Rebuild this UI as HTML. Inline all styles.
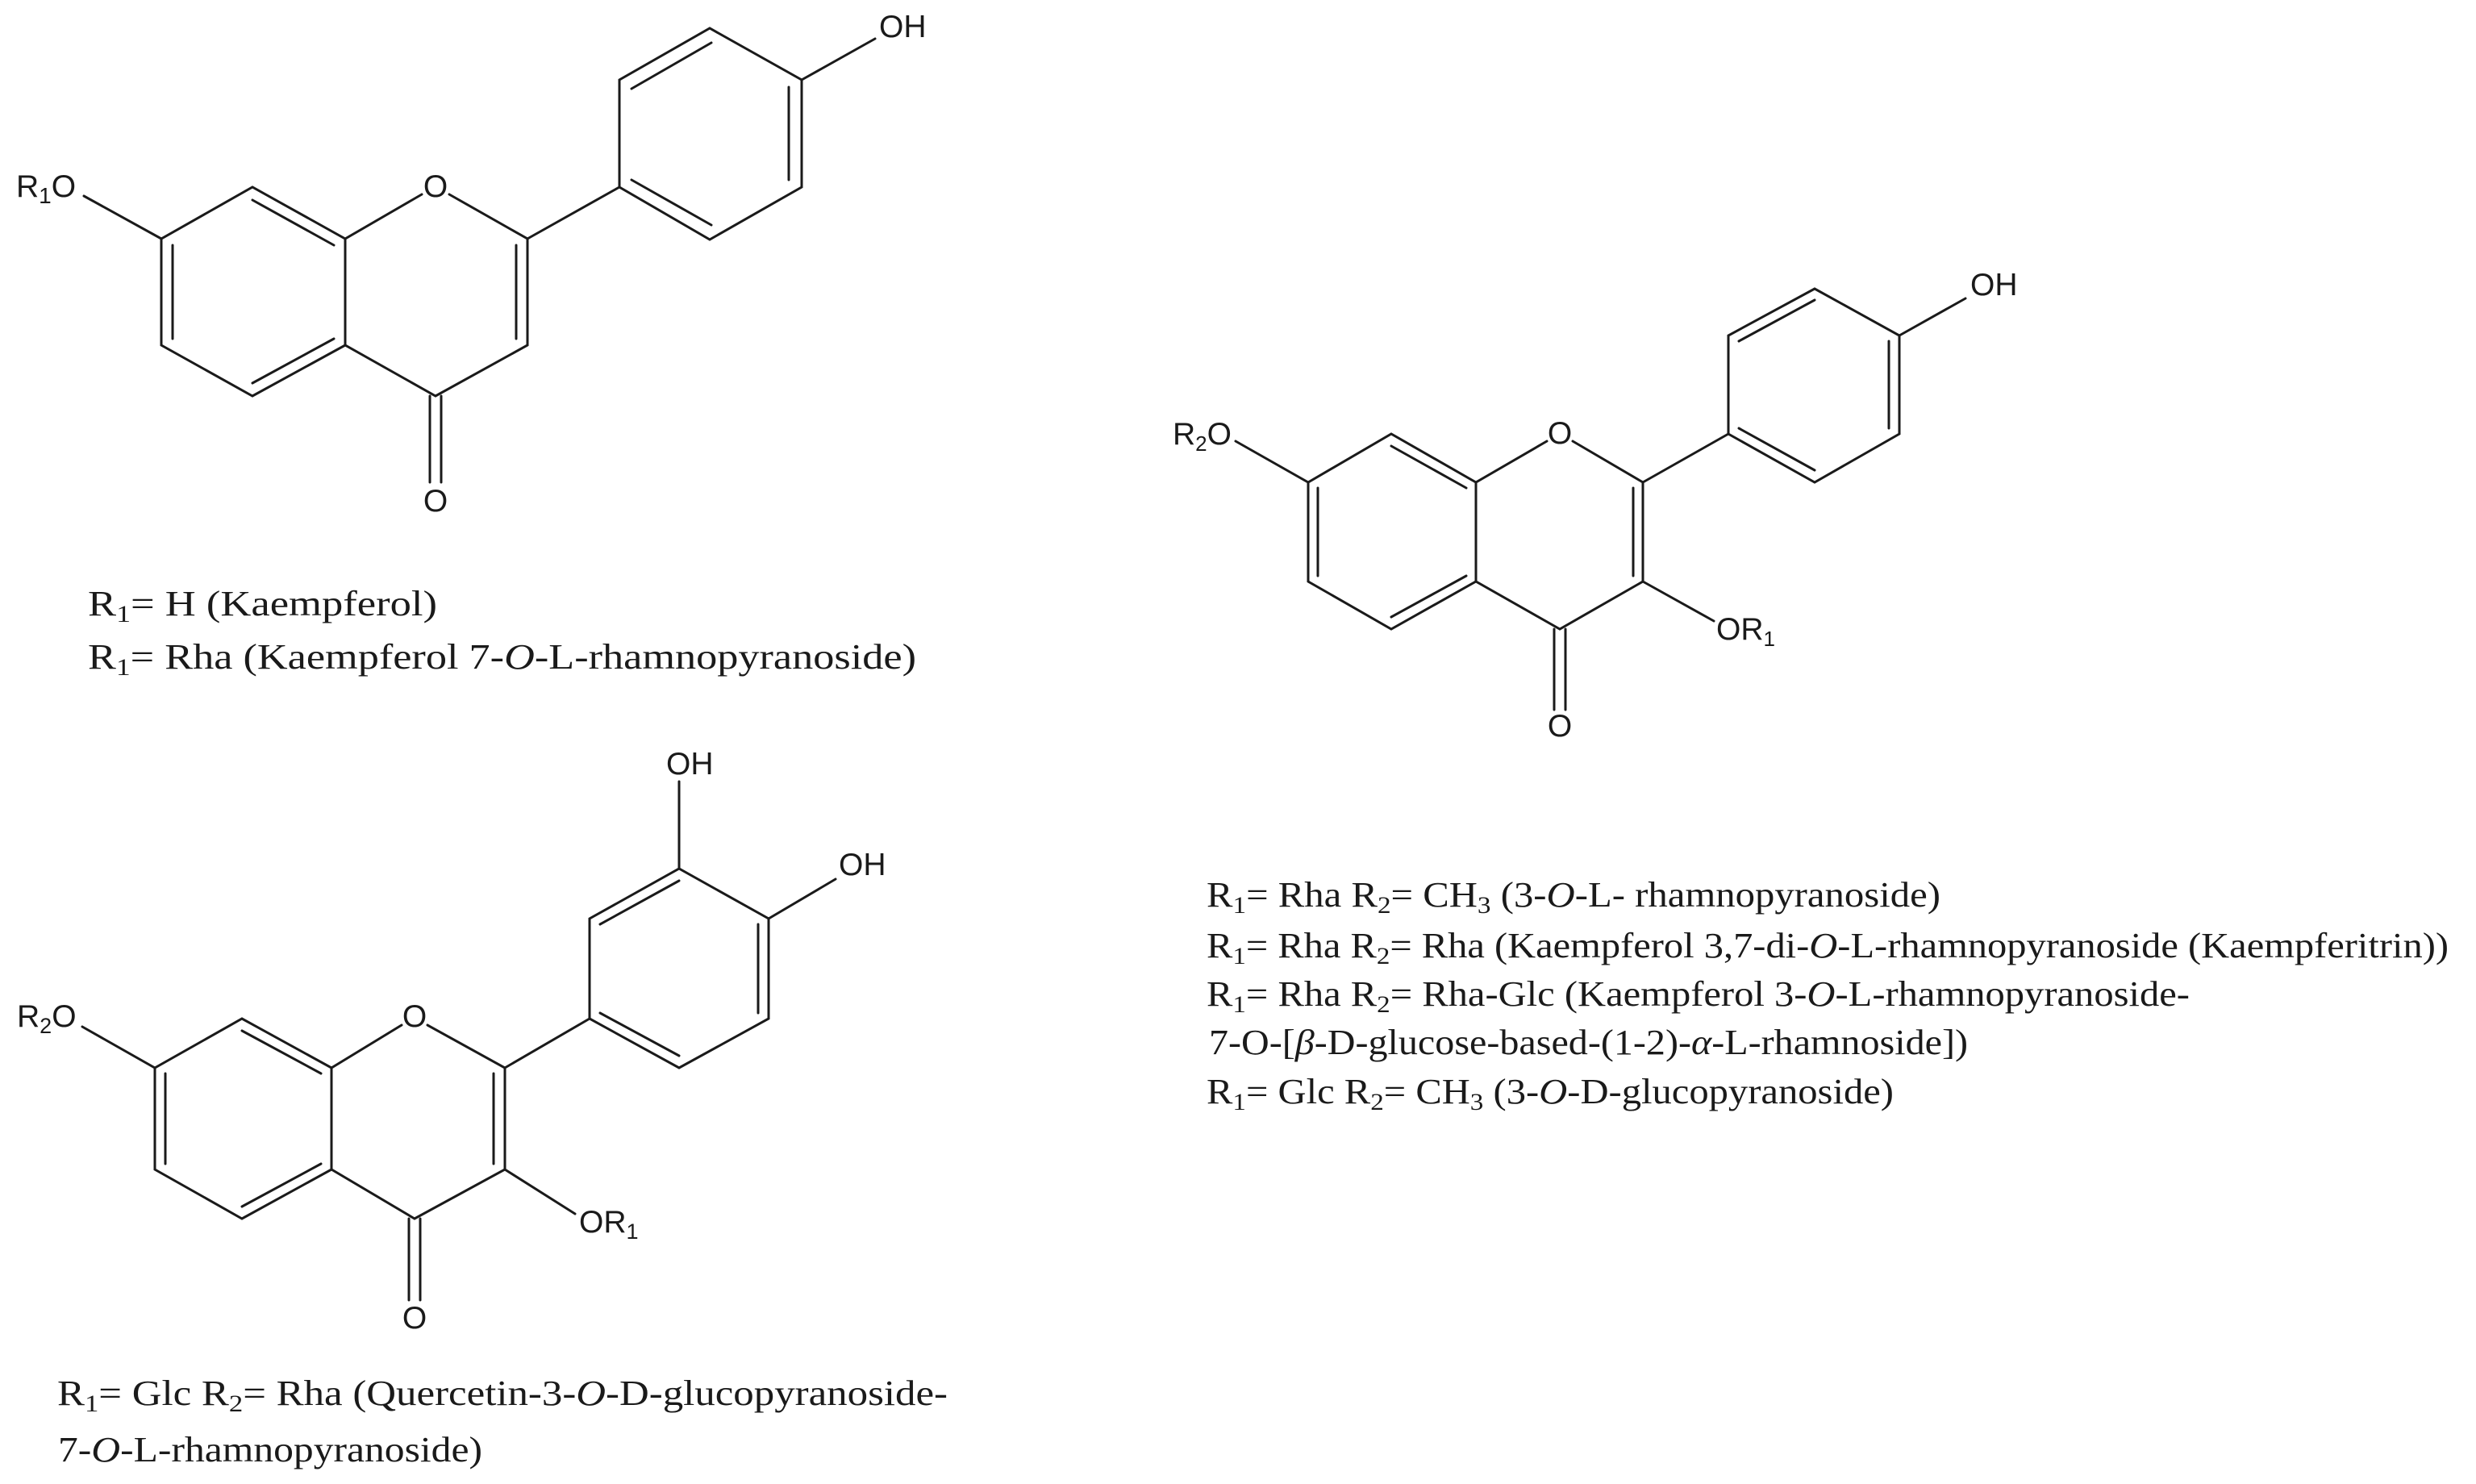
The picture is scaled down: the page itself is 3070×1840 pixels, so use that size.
<!DOCTYPE html>
<html><head><meta charset="utf-8"><style>
html,body{margin:0;padding:0;background:#fff;}
svg{display:block}
.b{stroke:#1a1a1a;stroke-width:3;fill:none;stroke-linecap:round}
.a{font-family:"Liberation Sans",sans-serif;font-size:39px;fill:#1a1a1a}
.c{font-family:"Liberation Serif",serif;font-size:44px;fill:#1a1a1a}
</style></head><body>
<svg width="3070" height="1840" viewBox="0 0 3070 1840" xmlns="http://www.w3.org/2000/svg">
<!-- Structure 1 -->
<g class="b">
<polyline points="104,243 200,296 313,232 428,296 523,241"/>
<polyline points="557,241 654,296 654,428 540,491 428,428 313,491 200,428 200,296"/>
<line x1="428" y1="296" x2="428" y2="428"/>
<line x1="654" y1="296" x2="768" y2="232"/>
<polygon points="768,232 768,99 880,35 994,99 994,232 880,297"/>
<line x1="994" y1="99" x2="1085" y2="48"/>
<line x1="313" y1="248" x2="414" y2="304"/>
<line x1="214" y1="304" x2="214" y2="420"/>
<line x1="313" y1="475" x2="414" y2="420"/>
<line x1="640" y1="304" x2="640" y2="420"/>
<line x1="533" y1="491" x2="533" y2="598"/>
<line x1="547" y1="491" x2="547" y2="598"/>
<line x1="783" y1="110" x2="882" y2="53"/>
<line x1="978" y1="108" x2="978" y2="223"/>
<line x1="882" y1="279" x2="783" y2="223"/>
</g>
<text class="a" x="20" y="244" font-size="41">R<tspan font-size="28" dy="8">1</tspan><tspan dy="-8">O</tspan></text>
<text class="a" x="540" y="244" text-anchor="middle" font-size="41">O</text>
<text class="a" x="540" y="634" text-anchor="middle" font-size="41">O</text>
<text class="a" x="1090" y="46" font-size="41">OH</text>
<text class="c" x="109" y="763" textLength="433" lengthAdjust="spacingAndGlyphs">R<tspan font-size="30" dy="8">1</tspan><tspan dy="-8">= H (Kaempferol)</tspan></text>
<text class="c" x="109" y="829" textLength="1027" lengthAdjust="spacingAndGlyphs">R<tspan font-size="30" dy="8">1</tspan><tspan dy="-8">= Rha (Kaempferol 7-</tspan><tspan font-style="italic">O</tspan>-L-rhamnopyranoside)</text>

<!-- Structure 2 -->
<g class="b">
<polyline points="1532,547 1622,598 1725,538 1830,598 1918,547"/>
<polyline points="1950,547 2037,598 2037,721 1934,780 1830,721 1725,780 1622,721 1622,598"/>
<line x1="1830" y1="598" x2="1830" y2="721"/>
<line x1="2037" y1="598" x2="2143" y2="538"/>
<polygon points="2143,538 2143,416 2250,358 2355,416 2355,538 2250,598"/>
<line x1="2355" y1="416" x2="2437" y2="370"/>
<line x1="2037" y1="721" x2="2125" y2="770"/>
<line x1="1725" y1="553" x2="1818" y2="605"/>
<line x1="1634" y1="605" x2="1634" y2="714"/>
<line x1="1725" y1="765" x2="1818" y2="714"/>
<line x1="2025" y1="605" x2="2025" y2="714"/>
<line x1="1927" y1="780" x2="1927" y2="880"/>
<line x1="1941" y1="780" x2="1941" y2="880"/>
<line x1="2156" y1="423" x2="2250" y2="372"/>
<line x1="2342" y1="423" x2="2342" y2="531"/>
<line x1="2250" y1="583" x2="2156" y2="531"/>
</g>
<text class="a" x="1454" y="551" font-size="37">R<tspan font-size="26" dy="8">2</tspan><tspan dy="-8">O</tspan></text>
<text class="a" x="1934" y="550" text-anchor="middle" font-size="37">O</text>
<text class="a" x="1934" y="913" text-anchor="middle" font-size="37">O</text>
<text class="a" x="2128" y="793" font-size="37">OR<tspan font-size="26" dy="8">1</tspan></text>
<text class="a" x="2443" y="366" font-size="37">OH</text>
<text class="c" x="1496" y="1124" textLength="910" lengthAdjust="spacingAndGlyphs">R<tspan font-size="30" dy="8">1</tspan><tspan dy="-8">= Rha R</tspan><tspan font-size="30" dy="8">2</tspan><tspan dy="-8">= CH</tspan><tspan font-size="30" dy="8">3</tspan><tspan dy="-8"> (3-</tspan><tspan font-style="italic">O</tspan>-L- rhamnopyranoside)</text>
<text class="c" x="1496" y="1187" textLength="1540" lengthAdjust="spacingAndGlyphs">R<tspan font-size="30" dy="8">1</tspan><tspan dy="-8">= Rha R</tspan><tspan font-size="30" dy="8">2</tspan><tspan dy="-8">= Rha (Kaempferol 3,7-di-</tspan><tspan font-style="italic">O</tspan>-L-rhamnopyranoside (Kaempferitrin))</text>
<text class="c" x="1496" y="1247" textLength="1219" lengthAdjust="spacingAndGlyphs">R<tspan font-size="30" dy="8">1</tspan><tspan dy="-8">= Rha R</tspan><tspan font-size="30" dy="8">2</tspan><tspan dy="-8">= Rha-Glc (Kaempferol 3-</tspan><tspan font-style="italic">O</tspan>-L-rhamnopyranoside-</text>
<text class="c" x="1499" y="1307" textLength="941" lengthAdjust="spacingAndGlyphs">7-O-[<tspan font-style="italic">β</tspan>-D-glucose-based-(1-2)-<tspan font-style="italic">α</tspan>-L-rhamnoside])</text>
<text class="c" x="1496" y="1368" textLength="852" lengthAdjust="spacingAndGlyphs">R<tspan font-size="30" dy="8">1</tspan><tspan dy="-8">= Glc R</tspan><tspan font-size="30" dy="8">2</tspan><tspan dy="-8">= CH</tspan><tspan font-size="30" dy="8">3</tspan><tspan dy="-8"> (3-</tspan><tspan font-style="italic">O</tspan>-D-glucopyranoside)</text>

<!-- Structure 3 -->
<g class="b">
<polyline points="102,1273 192,1324 300,1263 411,1324 498,1271"/>
<polyline points="530,1271 626,1324 626,1450 514,1511 411,1450 300,1511 192,1450 192,1324"/>
<line x1="411" y1="1324" x2="411" y2="1450"/>
<line x1="626" y1="1324" x2="731" y2="1263"/>
<polygon points="731,1263 731,1139 842,1077 953,1139 953,1263 842,1324"/>
<line x1="842" y1="1077" x2="842" y2="969"/>
<line x1="953" y1="1139" x2="1036" y2="1090"/>
<line x1="626" y1="1450" x2="713" y2="1505"/>
<line x1="300" y1="1278" x2="398" y2="1331"/>
<line x1="205" y1="1331" x2="205" y2="1443"/>
<line x1="300" y1="1496" x2="398" y2="1443"/>
<line x1="612" y1="1331" x2="612" y2="1443"/>
<line x1="507" y1="1511" x2="507" y2="1612"/>
<line x1="521" y1="1511" x2="521" y2="1612"/>
<line x1="744" y1="1146" x2="842" y2="1092"/>
<line x1="940" y1="1146" x2="940" y2="1256"/>
<line x1="842" y1="1309" x2="744" y2="1256"/>
</g>
<text class="a" x="21" y="1273">R<tspan font-size="27" dy="8">2</tspan><tspan dy="-8">O</tspan></text>
<text class="a" x="514" y="1273" text-anchor="middle">O</text>
<text class="a" x="514" y="1647" text-anchor="middle">O</text>
<text class="a" x="718" y="1528">OR<tspan font-size="27" dy="8">1</tspan></text>
<text class="a" x="826" y="960">OH</text>
<text class="a" x="1040" y="1085">OH</text>
<text class="c" x="71" y="1742" textLength="1104" lengthAdjust="spacingAndGlyphs">R<tspan font-size="30" dy="8">1</tspan><tspan dy="-8">= Glc R</tspan><tspan font-size="30" dy="8">2</tspan><tspan dy="-8">= Rha (Quercetin-3-</tspan><tspan font-style="italic">O</tspan>-D-glucopyranoside-</text>
<text class="c" x="72" y="1812" textLength="526" lengthAdjust="spacingAndGlyphs">7-<tspan font-style="italic">O</tspan>-L-rhamnopyranoside)</text>
</svg>
</body></html>
